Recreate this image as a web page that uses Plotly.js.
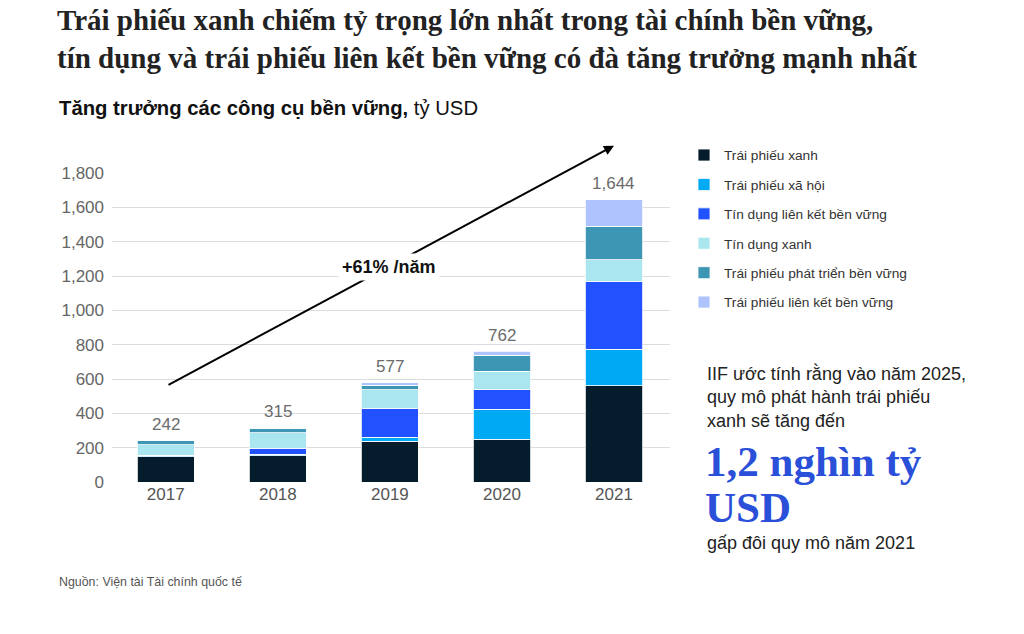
<!DOCTYPE html>
<html>
<head>
<meta charset="utf-8">
<script src="https://cdn.plot.ly/plotly-3.0.1.min.js"></script>
<style>html,body{margin:0;padding:0;background:#fff;}#chart{width:1024px;height:634px;}</style>
</head>
<body>
<div id="chart"></div>
<script>
// ---- data (tỷ USD) ----
const years = ['2017', '2018', '2019', '2020', '2021'];
const greenBonds = [146, 152, 237, 250, 560];        // Trái phiếu xanh
const socialBonds = [6, 10, 25, 173, 213];           // Trái phiếu xã hội
const sustLinkedLoans = [4, 36, 169, 116, 397];      // Tín dụng liên kết bền vững
const greenLoans = [62, 90, 107, 106, 126];          // Tín dụng xanh
const sustDevBonds = [24, 25, 27, 92, 194];          // Trái phiếu phát triển bền vững
const sustLinkedBonds = [0, 2, 12, 25, 154];         // Trái phiếu liên kết bền vững
const totals = [242, 315, 577, 762, 1644];
const seriesNames = ['Trái phiếu xanh', 'Trái phiếu xã hội', 'Tín dụng liên kết bền vững',
  'Tín dụng xanh', 'Trái phiếu phát triển bền vững', 'Trái phiếu liên kết bền vững'];
const yTicks = [0, 200, 400, 600, 800, 1000, 1200, 1400, 1600, 1800];

const colors = ['#051c2c', '#00a9f4', '#2251ff', '#aae6f0', '#3c96b4', '#afc3ff'];
const seriesValues = [greenBonds, socialBonds, sustLinkedLoans, greenLoans, sustDevBonds, sustLinkedBonds];

// plot area in pixels
const PL = 112, PR = 670, PT = 173.3, PB = 481.7;
const px = x => (x - PL) / (PR - PL);
const py = y => (PB - y) / (PB - PT);

const sans = 'Liberation Sans, Arial, sans-serif';
const serif = 'Liberation Serif, Times New Roman, serif';

const traces = seriesValues.map((vals, i) => ({
  type: 'bar',
  x: years,
  y: vals,
  name: seriesNames[i],
  legendgroup: 'g' + i,
  marker: { color: colors[i], line: { color: '#ffffff', width: 0.8 } },
  hoverinfo: 'skip'
}));

// total labels: category axis positions are category indices
const totalLabels = years.map((yr, i) => ({
  xref: 'x', yref: 'y',
  x: i, y: totals[i],
  xanchor: 'center', yanchor: 'middle',
  yshift: 16,
  text: totals[i].toLocaleString('en-US'),
  showarrow: false,
  font: { family: sans, size: 17, color: '#6b6b6b' }
}));

const layout = {
  width: 1024,
  height: 634,
  paper_bgcolor: '#ffffff',
  plot_bgcolor: '#ffffff',
  margin: { l: PL, r: 1024 - PR, t: PT, b: 634 - PB, pad: 0 },
  barmode: 'stack',
  bargap: 0.49,
  title: {
    text: '<b>Trái phiếu xanh chiếm tỷ trọng lớn nhất trong tài chính bền vững,<br>tín dụng và trái phiếu liên kết bền vững có đà tăng trưởng mạnh nhất</b>',
    x: 57 / 1024,
    xanchor: 'left',
    xref: 'container',
    y: 1 - 30 / 634,
    yanchor: 'middle',
    yref: 'container',
    font: { family: serif, size: 29, color: '#222222' }
  },
  xaxis: {
    type: 'category',
    range: [-0.48, 4.5],
    showgrid: false,
    zeroline: false,
    showline: false,
    ticks: '',
    tickfont: { family: sans, size: 17, color: '#555555' },
    fixedrange: true
  },
  yaxis: {
    range: [0, 1800],
    tickvals: yTicks,
    ticktext: yTicks.map(v => v.toLocaleString('en-US')),
    showgrid: true,
    gridcolor: '#dcdcdc',
    gridwidth: 1,
    zeroline: false,
    showline: false,
    ticks: '',
    ticklabelstandoff: 7,
    tickfont: { family: sans, size: 17, color: '#666666' },
    fixedrange: true
  },
  showlegend: true,
  legend: {
    x: px(684),
    xanchor: 'left',
    y: py(140),
    yanchor: 'top',
    traceorder: 'grouped',
    tracegroupgap: 8.6,
    font: { family: sans, size: 13.7, color: '#333333' },
    bgcolor: 'rgba(0,0,0,0)'
  },
  annotations: totalLabels.concat([
    {
      xref: 'paper', yref: 'paper',
      x: px(57), y: py(108), xanchor: 'left', yanchor: 'middle',
      text: '<b>Tăng trưởng các công cụ bền vững,</b> tỷ USD',
      showarrow: false,
      font: { family: sans, size: 20.3, color: '#111111' }
    },
    {
      xref: 'paper', yref: 'paper',
      x: px(614), y: py(146),
      axref: 'pixel', ayref: 'pixel',
      ax: 167 - 614, ay: 386 - 146,
      text: '',
      showarrow: true,
      arrowhead: 2,
      arrowsize: 1,
      arrowwidth: 2,
      arrowcolor: '#000000',
      standoff: 0
    },
    {
      xref: 'paper', yref: 'paper',
      x: px(389), y: py(267), xanchor: 'center', yanchor: 'middle',
      text: '<b>+61% /năm</b>',
      showarrow: false,
      bgcolor: '#ffffff',
      borderpad: 3,
      font: { family: sans, size: 18, color: '#111111' }
    },
    {
      xref: 'paper', yref: 'paper',
      x: px(705), y: py(373), xanchor: 'left', yanchor: 'middle',
      text: 'IIF ước tính rằng vào năm 2025,',
      showarrow: false,
      font: { family: sans, size: 18, color: '#222222' }
    },
    {
      xref: 'paper', yref: 'paper',
      x: px(705), y: py(397), xanchor: 'left', yanchor: 'middle',
      text: 'quy mô phát hành trái phiếu',
      showarrow: false,
      font: { family: sans, size: 18, color: '#222222' }
    },
    {
      xref: 'paper', yref: 'paper',
      x: px(705), y: py(421), xanchor: 'left', yanchor: 'middle',
      text: 'xanh sẽ tăng đến',
      showarrow: false,
      font: { family: sans, size: 18, color: '#222222' }
    },
    {
      xref: 'paper', yref: 'paper',
      x: px(703), y: py(461), xanchor: 'left', yanchor: 'middle',
      text: '<b>1,2 nghìn tỷ</b>',
      showarrow: false,
      font: { family: serif, size: 43, color: '#2a4fd8' }
    },
    {
      xref: 'paper', yref: 'paper',
      x: px(703), y: py(507), xanchor: 'left', yanchor: 'middle',
      text: '<b>USD</b>',
      showarrow: false,
      font: { family: serif, size: 43, color: '#2a4fd8' }
    },
    {
      xref: 'paper', yref: 'paper',
      x: px(705), y: py(543), xanchor: 'left', yanchor: 'middle',
      text: 'gấp đôi quy mô năm 2021',
      showarrow: false,
      font: { family: sans, size: 18, color: '#222222' }
    },
    {
      xref: 'paper', yref: 'paper',
      x: px(57), y: py(582), xanchor: 'left', yanchor: 'middle',
      text: 'Nguồn: Viện tài Tài chính quốc tế',
      showarrow: false,
      font: { family: sans, size: 12.4, color: '#555555' }
    }
  ])
};

Plotly.newPlot('chart', traces, layout, { displayModeBar: false, staticPlot: true });
</script>
</body>
</html>
